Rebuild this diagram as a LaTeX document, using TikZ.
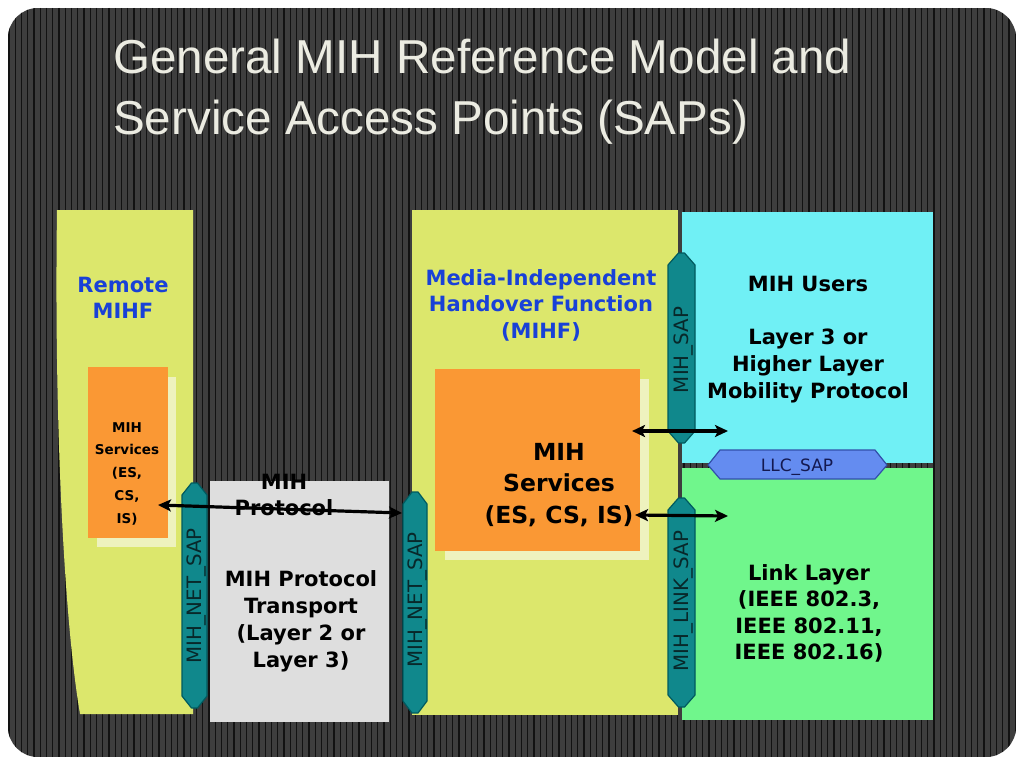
\documentclass[tikz,border=0pt]{standalone}
\usepackage{fontspec}
\usetikzlibrary{arrows.meta}
\newfontfamily\dvs{DejaVu Sans}
\newfontfamily\lsans{Liberation Sans}
\definecolor{bgdark}{RGB}{62,62,62}
\definecolor{stripecol}{RGB}{18,18,18}
\definecolor{ttl}{RGB}{236,236,226}
\definecolor{ylw}{RGB}{220,231,108}
\definecolor{pale}{RGB}{238,242,190}
\definecolor{org}{RGB}{250,152,52}
\definecolor{gry}{RGB}{222,222,222}
\definecolor{cyn}{RGB}{112,240,245}
\definecolor{grn}{RGB}{112,246,140}
\definecolor{sapteal}{RGB}{16,136,140}
\definecolor{saptealdk}{RGB}{0,90,95}
\definecolor{llcfill}{RGB}{100,140,240}
\definecolor{llcdk}{RGB}{50,80,170}
\definecolor{llctxt}{RGB}{20,25,80}
\definecolor{bluet}{RGB}{25,65,215}
\definecolor{saptxt}{RGB}{8,40,42}
\newcommand\stk[1]{\vtop{\halign{\hfil##\hfil\cr#1\crcr}}}
\newcommand\stkl[1]{\vtop{\halign{##\hfil\cr#1\crcr}}}
\newcommand\vhex[4]{%
  \path[sapshape] ({(#1+#3)/2-3},#2) -- ({(#1+#3)/2+3},#2) -- (#3,#2+12) -- (#3,#4-12)
    -- ({(#1+#3)/2+3},#4) -- ({(#1+#3)/2-3},#4) -- (#1,#4-12) -- (#1,#2+12) -- cycle;}
\tikzset{
  boxn/.style={draw=none, inner sep=0pt, anchor=north west},
  lbl/.style={inner sep=0pt, anchor=base, font=\dvs\bfseries\fontsize{21}{26.5}\selectfont},
  saplbl/.style={inner sep=0pt, font=\dvs\fontsize{19.8}{22}\selectfont, text=saptxt, text height=14.4pt, text depth=0pt},
  sapshape/.style={fill=sapteal, draw=saptealdk, line width=1.2pt, line join=round},
  biarrow/.style={{Stealth[length=13pt,width=12pt,inset=3pt]}-{Stealth[length=13pt,width=12pt,inset=3pt]}, line width=3.2pt, black},
}
\begin{document}
\begin{tikzpicture}[x=1pt,y=-1pt]
\useasboundingbox (0,0) rectangle (1024,768);
\fill[white] (0,0) rectangle (1024,768);
% background with stripes
\begin{scope}
  \clip[rounded corners=30pt] (8,8) rectangle (1016,757);
  \fill[bgdark] (8,8) rectangle (1016,757);
  \foreach \i in {0,...,162} \draw[stripecol, line width=1.3pt] ({9+\i*6.25},8) -- ({9+\i*6.25},757);
\end{scope}
% title
\node[anchor=base west, inner sep=0pt, font=\lsans\fontsize{47.6}{61}\selectfont, text=ttl] (title) at (113,74)
  {\stkl{General MIH Reference Model and\cr Service Access Points (SAPs)}};
% remote MIHF
\path[fill=ylw] (57,210) -- (193,210) -- (193,714) -- (80,714) .. controls (64,620) and (54,420) .. (57,210) -- cycle;
\fill[pale] (97,377) rectangle (176,547);
\node[boxn, fill=org, minimum width=80, minimum height=171] (rsvc) at (88,367) {};
% transport box
\node[boxn, fill=gry, minimum width=179, minimum height=241] (tbox) at (210,481) {};
\vhex{182}{483}{207}{708}
% local MIHF
\node[boxn, fill=ylw, minimum width=266, minimum height=505] (mihf) at (412,210) {};
\vhex{403}{492}{427}{713}
\fill[pale] (445,379) rectangle (649,560);
\node[boxn, fill=org, minimum width=205, minimum height=182] (svc) at (435,369) {};
% users and link layer
\node[boxn, fill=cyn, minimum width=251, minimum height=251] (users) at (682,212) {};
\node[boxn, fill=grn, minimum width=251, minimum height=252] (link) at (682,468) {};
\vhex{668}{253}{695}{443}
\vhex{668}{498}{695}{707}
\path[fill=llcfill, draw=llcdk, line width=1.2pt, line join=round]
  (708,465) -- (720,450) -- (875,450) -- (887,465) -- (875,479) -- (720,479) -- cycle;
% SAP labels
\node[saplbl, rotate=90] (netL) at (194.5,596) {MIH\_NET\_SAP};
\node[saplbl, rotate=90] (netR) at (415,600) {MIH\_NET\_SAP};
\node[saplbl, rotate=90] (mihsap) at (681.5,350) {MIH\_SAP};
\node[saplbl, rotate=90] (linksap) at (681.5,601) {MIH\_LINK\_SAP};
\node[saplbl, font=\dvs\fontsize{17}{20}\selectfont, text=llctxt, text height=12.4pt] (llc) at (797,465) {LLC\_SAP};
% texts
\node[lbl, text=bluet] (tRemote) at (123,292) {\stk{Remote\cr MIHF}};
\node[lbl, font=\dvs\bfseries\fontsize{13.5}{22.8}\selectfont] (tRsvc) at (127,432) {\stk{MIH\cr Services\cr (ES,\cr CS,\cr IS)}};
\node[lbl] (tProto) at (284,489) {\stk{MIH\cr Protocol}};
\node[lbl, font=\dvs\bfseries\fontsize{21}{27}\selectfont] (tTrans) at (301,586) {\stk{MIH Protocol\cr Transport\cr (Layer 2 or\cr Layer 3)}};
\node[lbl, text=bluet] (tMihf) at (541,285) {\stk{Media-Independent\cr Handover Function\cr (MIHF)}};
\node[lbl, font=\dvs\bfseries\fontsize{23.5}{31.5}\selectfont] (tSvc) at (559,460) {\stk{MIH\cr Services\cr (ES, CS, IS)}};
\node[lbl, font=\dvs\bfseries\fontsize{21}{26.75}\selectfont] (tUsers) at (808,291) {\stk{MIH Users\cr\cr Layer 3 or\cr Higher Layer\cr Mobility Protocol}};
\node[lbl] (tLink) at (809,580) {\stk{Link Layer\cr (IEEE 802.3,\cr IEEE 802.11,\cr IEEE 802.16)}};
% arrows
\coordinate (aL1) at (158,505);
\coordinate (aL2) at (402,513);
\coordinate (aU1) at (632,431);
\coordinate (aU2) at (728,431);
\coordinate (aD1) at (635,515);
\coordinate (aD2) at (728,516);
\draw[biarrow] (aL1) -- (aL2);
\draw[biarrow] (aU1) -- (aU2);
\draw[biarrow] (aD1) -- (aD2);
\end{tikzpicture}
\end{document}
